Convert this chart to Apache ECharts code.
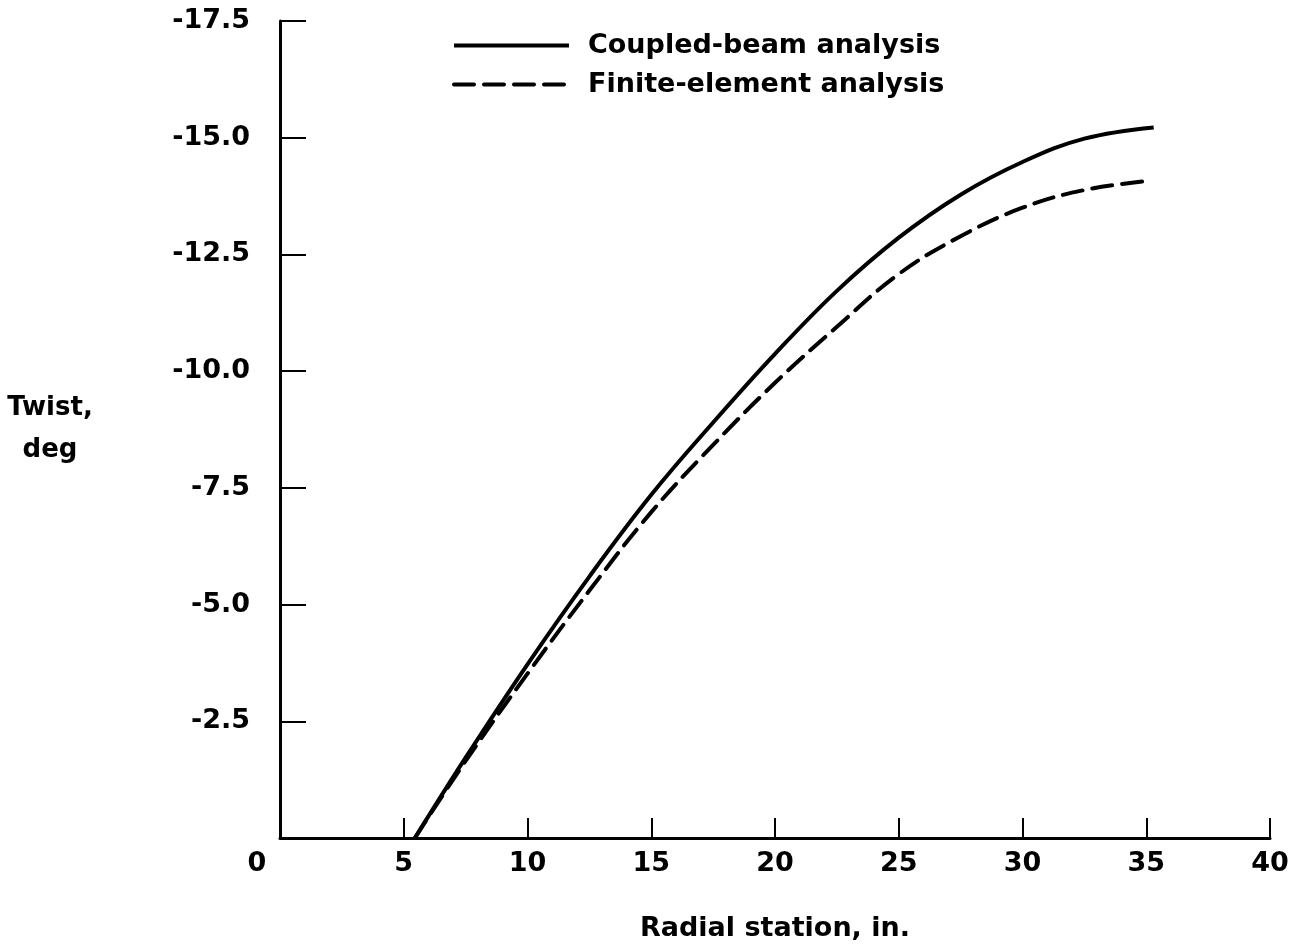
<!DOCTYPE html>
<html>
<head>
<meta charset="utf-8">
<script src="https://cdn.jsdelivr.net/npm/echarts@6/dist/echarts.min.js"></script>
<style>
  html, body { margin: 0; padding: 0; background: #fff; }
  #chart { width: 1302px; height: 947px; }
</style>
</head>
<body>
<div id="chart"></div>
<script>
const coupledX = [5.45, 7.5, 10, 12.5, 15, 17.5, 20, 22.5, 25, 27.5, 30, 32.5, 35.3]
const coupledY = [0, -1.72, -3.72, -5.6, -7.35, -8.9, -10.37, -11.72, -12.86, -13.78, -14.48, -14.98, -15.22]

const finiteX = [5.45, 7.5, 10, 12.5, 15, 17.5, 20, 22.5, 25, 27.5, 30, 32.5, 35.2]
const finiteY = [0, -1.65, -3.52, -5.3, -6.98, -8.42, -9.75, -10.95, -12.08, -12.89, -13.5, -13.88, -14.08]

const xTicks = [0, 5, 10, 15, 20, 25, 30, 35, 40]
const yTicks = [-17.5, -15, -12.5, -10, -7.5, -5, -2.5, 0]

const font = "DejaVu Sans"
const ink = "#000"

function pairs(xs, ys) {
  return xs.map((x, i) => [x, ys[i]])
}

const chart = echarts.init(document.getElementById("chart"), null, { renderer: "canvas" })

chart.setOption({
  backgroundColor: "#fff",
  animation: false,
  grid: { left: 280, right: 32, top: 21, bottom: 107 },
  legend: {
    orient: "vertical",
    left: 447,
    top: 27,
    itemWidth: 115,
    itemHeight: 10,
    itemGap: 12,
    itemStyle: { opacity: 0 },
    lineStyle: { width: 4 },
    textStyle: { color: ink, fontFamily: font, fontSize: 27, fontWeight: "bold", padding: [0, 0, 0, 14] },
    data: ["Coupled-beam analysis", "Finite-element analysis"]
  },
  xAxis: {
    type: "value",
    min: xTicks[0],
    max: xTicks[xTicks.length - 1],
    interval: 5,
    name: "Radial station, in.",
    nameLocation: "middle",
    nameGap: 77,
    nameTextStyle: { color: ink, fontFamily: font, fontSize: 27, fontWeight: "bold" },
    axisLine: { lineStyle: { color: ink, width: 3 } },
    axisTick: { inside: true, length: 20, lineStyle: { color: ink, width: 2 } },
    splitLine: { show: false },
    axisLabel: {
      color: ink,
      fontFamily: font,
      fontSize: 27,
      fontWeight: "bold",
      margin: 12,
      formatter: v => (v === 0 ? "{o|0}" : String(v)),
      rich: { o: { fontFamily: font, fontSize: 27, fontWeight: "bold", color: ink, padding: [0, 46, 0, 0] } }
    }
  },
  yAxis: {
    type: "value",
    inverse: true,
    min: yTicks[0],
    max: yTicks[yTicks.length - 1],
    interval: 2.5,
    name: "Twist,\ndeg",
    nameLocation: "middle",
    nameGap: 230,
    nameRotate: 0,
    nameTextStyle: { color: ink, fontFamily: font, fontSize: 26, fontWeight: "bold", align: "center", lineHeight: 42 },
    axisLine: { show: true, lineStyle: { color: ink, width: 3 } },
    axisTick: { show: true, inside: true, length: 26, lineStyle: { color: ink, width: 2 } },
    splitLine: { show: false },
    axisLabel: {
      color: ink,
      fontFamily: font,
      fontSize: 27,
      fontWeight: "bold",
      margin: 30,
      formatter: v => (v === 0 ? "" : v.toFixed(1))
    }
  },
  series: [
    {
      name: "Coupled-beam analysis",
      type: "line",
      smooth: 0.4,
      symbol: "none",
      lineStyle: { color: ink, width: 4 },
      itemStyle: { color: ink },
      data: pairs(coupledX, coupledY)
    },
    {
      name: "Finite-element analysis",
      type: "line",
      smooth: 0.4,
      symbol: "none",
      lineStyle: { color: ink, width: 4, type: [20, 10], cap: "round" },
      itemStyle: { color: ink },
      data: pairs(finiteX, finiteY)
    }
  ]
})
</script>
</body>
</html>
